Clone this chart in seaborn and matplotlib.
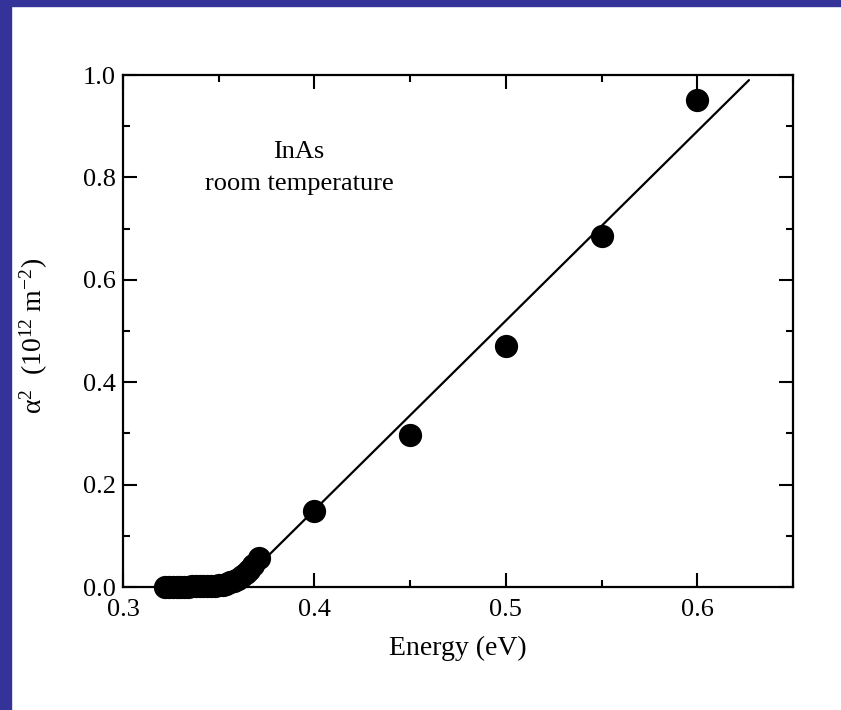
import matplotlib
matplotlib.use("Agg")
import matplotlib.pyplot as plt
from matplotlib.patches import Rectangle
from matplotlib.ticker import MultipleLocator
import pandas as pd
import seaborn as sns

# absorption edge, dense measurements near the gap
energy_edge = [0.322, 0.324, 0.326, 0.328, 0.330, 0.332, 0.334, 0.336, 0.338, 0.340,
               0.342, 0.344, 0.346, 0.348, 0.350, 0.352, 0.354, 0.356, 0.358, 0.360,
               0.362, 0.364, 0.366, 0.368, 0.371]
alpha2_edge = [0.000, 0.000, 0.000, 0.000, 0.000, 0.000, 0.000, 0.001, 0.001, 0.001,
               0.001, 0.002, 0.002, 0.002, 0.003, 0.004, 0.006, 0.009, 0.012, 0.016,
               0.021, 0.027, 0.034, 0.043, 0.057]

# sparse points above the gap
energy_main = [0.40, 0.45, 0.50, 0.55, 0.60]
alpha2_main = [0.148, 0.296, 0.471, 0.686, 0.952]

# straight-line fit
fit_energy = [0.365, 0.627]
fit_alpha2 = [0.021, 0.990]

x_ticks = [0.3, 0.4, 0.5, 0.6]
y_ticks = [0.0, 0.2, 0.4, 0.6, 0.8, 1.0]

sns.set_theme(style="ticks")
plt.rcParams["font.family"] = ["Liberation Serif", "DejaVu Serif"]
plt.rcParams["mathtext.fontset"] = "custom"
plt.rcParams["mathtext.rm"] = "Liberation Serif"
plt.rcParams["mathtext.it"] = "Liberation Serif:italic"
plt.rcParams["text.color"] = "black"
plt.rcParams["axes.labelcolor"] = "black"

points = pd.DataFrame({
    "energy": energy_edge + energy_main,
    "alpha2": alpha2_edge + alpha2_main,
})
fit = pd.DataFrame({"energy": fit_energy, "alpha2": fit_alpha2})

fig = plt.figure(figsize=(8.41, 7.10), dpi=100)
ax = fig.add_axes([123 / 841, 1 - 587 / 710, 670 / 841, 512 / 710])

sns.lineplot(data=fit, x="energy", y="alpha2", color="black", linewidth=1.6, ax=ax)
sns.scatterplot(data=points, x="energy", y="alpha2", color="black", s=280,
                edgecolor="black", linewidth=0, ax=ax, zorder=3, clip_on=False)

ax.set_xlim(0.3, 0.65)
ax.set_ylim(0.0, 1.0)
ax.set_xticks(x_ticks)
ax.set_xticklabels([f"{v:.1f}" for v in x_ticks])
ax.set_yticks(y_ticks)
ax.set_yticklabels([f"{v:.1f}" for v in y_ticks])
ax.xaxis.set_minor_locator(MultipleLocator(0.05))
ax.yaxis.set_minor_locator(MultipleLocator(0.1))
ax.tick_params(which="both", direction="in", top=True, right=True, width=1.5,
               colors="black", labelcolor="black")
ax.tick_params(which="major", length=10)
ax.tick_params(which="minor", length=5)
ax.tick_params(axis="x", pad=9, labelsize=19)
ax.tick_params(axis="y", pad=5, labelsize=19)
for sp in ax.spines.values():
    sp.set_linewidth(1.6)
    sp.set_color("black")

ax.set_xlabel("Energy (eV)", fontsize=20, color="black")
ax.xaxis.set_label_coords(0.5, -0.095)
ax.set_ylabel(r"$\mathrm{\alpha}^2$  $(10^{12}\ \mathrm{m}^{-2})$", fontsize=20, color="black")
ax.yaxis.set_label_coords(-0.109, 0.49)

ax.text(0.392, 0.85, "InAs", ha="center", va="center", fontsize=19, color="black")
ax.text(0.392, 0.787, "room temperature", ha="center", va="center", fontsize=19, color="black")

# slide frame
fig.patches.append(Rectangle((0, 0), 11 / 841, 1, transform=fig.transFigure,
                             color="#333399", zorder=0))
fig.patches.append(Rectangle((0, 1 - 6 / 710), 1, 6 / 710, transform=fig.transFigure,
                             color="#333399", zorder=0))

fig.savefig("out.png", dpi=100, facecolor="white")
